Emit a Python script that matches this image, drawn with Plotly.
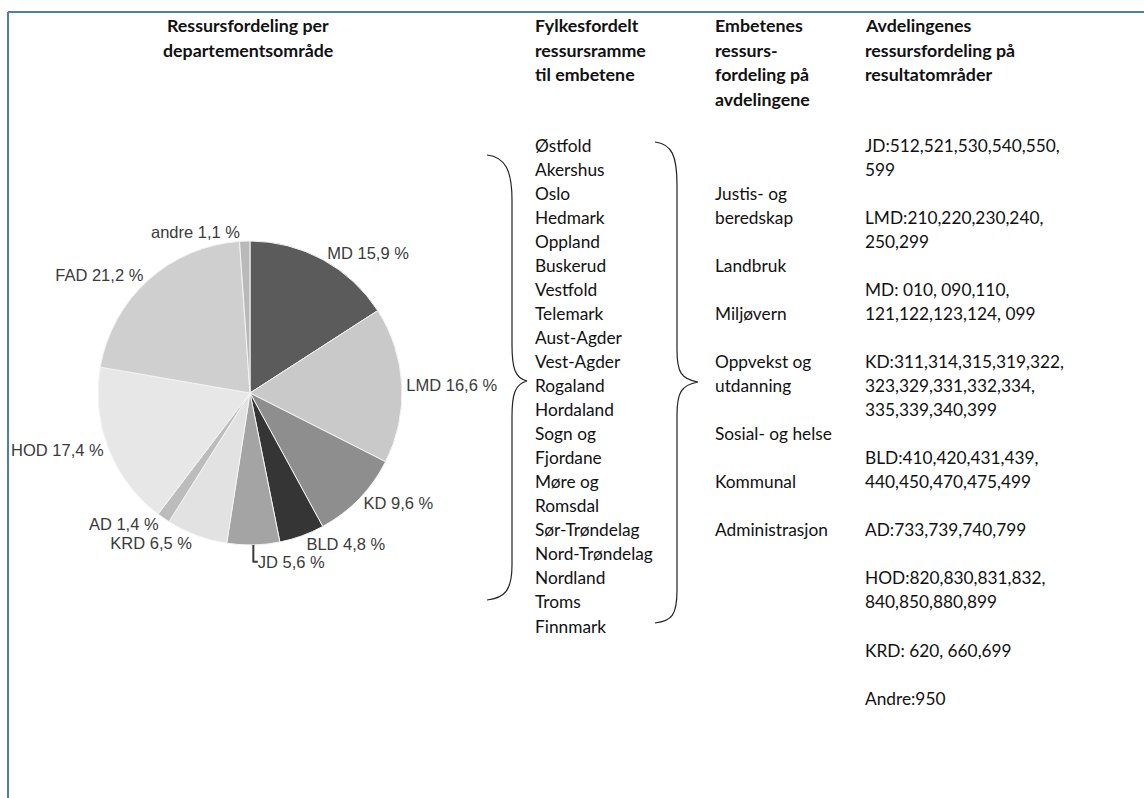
import plotly.graph_objects as go

# ---- data ----
departments = ["MD", "LMD", "KD", "BLD", "JD", "KRD", "AD", "HOD", "FAD", "andre"]
shares = [15.9, 16.6, 9.6, 4.8, 5.6, 6.5, 1.4, 17.4, 21.2, 1.1]
slice_colors = ["#5b5b5b", "#c9c9c9", "#8e8e8e", "#353535", "#a4a4a4",
                "#e2e2e2", "#bcbcbc", "#e7e7e7", "#cfcfcf", "#b9b9b9"]

heading1 = ["Ressursfordeling per", "departementsområde"]
heading2 = ["Fylkesfordelt", "ressursramme", "til embetene"]
heading3 = ["Embetenes", "ressurs-", "fordeling på", "avdelingene"]
heading4 = ["Avdelingenes", "ressursfordeling på", "resultatområder"]

counties = ["Østfold", "Akershus", "Oslo", "Hedmark", "Oppland", "Buskerud",
            "Vestfold", "Telemark", "Aust-Agder", "Vest-Agder", "Rogaland",
            "Hordaland", "Sogn og", "Fjordane", "Møre og", "Romsdal",
            "Sør-Trøndelag", "Nord-Trøndelag", "Nordland", "Troms", "Finnmark"]

departments_text = ["", "", "Justis- og", "beredskap", "", "Landbruk", "", "Miljøvern", "",
                    "Oppvekst og", "utdanning", "", "Sosial- og helse", "", "Kommunal",
                    "", "Administrasjon"]

result_areas = ["JD:512,521,530,540,550,", "599", "",
                "LMD:210,220,230,240,", "250,299", "",
                "MD: 010, 090,110,", "121,122,123,124, 099", "",
                "KD:311,314,315,319,322,", "323,329,331,332,334,", "335,339,340,399", "",
                "BLD:410,420,431,439,", "440,450,470,475,499", "",
                "AD:733,739,740,799", "",
                "HOD:820,830,831,832,", "840,850,880,899", "",
                "KRD: 620, 660,699", "",
                "Andre:950"]

W, H = 1144, 798
TEXT_FONT = "Lato"
PIE_FONT = "Liberation Sans"

labels_txt = [f"{d} {v:.1f} %".replace(".", ",") for d, v in zip(departments, shares)]

fig = go.Figure()

cx, cy, r = 250, 393, 152
fig.add_trace(go.Pie(
    labels=departments, values=shares, text=labels_txt,
    textinfo="text", textposition="outside", sort=False,
    direction="clockwise", rotation=0,
    marker=dict(colors=slice_colors, line=dict(color="#f4f4f4", width=1)),
    textfont=dict(family=PIE_FONT, size=16.5, color="#3a3a3a"),
    outsidetextfont=dict(family=PIE_FONT, size=16.5, color="#3a3a3a"),
    domain=dict(x=[(cx - r) / W, (cx + r) / W], y=[(H - cy - r) / H, (H - cy + r) / H]),
    showlegend=False, hoverinfo="label+value",
))

annotations = []
def add_lines(lines, x, y0, step, bold=False, anchor="left", size=17.3):
    for i, t in enumerate(lines):
        if not t:
            continue
        txt = f"<b>{t}</b>" if bold else t
        annotations.append(dict(x=x, y=y0 + i * step, xref="x", yref="y", text=txt,
                                showarrow=False, xanchor=anchor, yanchor="middle",
                                font=dict(family=TEXT_FONT, size=size, color="#111111")))

add_lines(heading1, 248, 25, 24.5, bold=True, anchor="center", size=17.8)
add_lines(heading2, 533, 25, 24.5, bold=True, size=17.8)
add_lines(heading3, 713, 25, 24.5, bold=True, size=17.8)
add_lines(heading4, 863, 25, 24.5, bold=True, size=17.8)
add_lines(counties, 533, 145, 24.05)
add_lines(departments_text, 713, 145, 24.05)
add_lines(result_areas, 863, 145, 24.05)

shapes = [
    dict(type="line", xref="x", yref="y", x0=8, y0=12, x1=1144, y1=12,
         line=dict(color="#4a7ebb", width=2)),
    dict(type="line", xref="x", yref="y", x0=8, y0=12, x1=8, y1=798,
         line=dict(color="#4a7ebb", width=2)),
    # left brace
    dict(type="path", xref="x", yref="y",
         path="M 487 155 C 505 157, 512 170, 512 200 L 512 345 C 512 368, 515 378, 527 381 "
              "C 515 384, 512 394, 512 417 L 512 565 C 512 590, 505 598, 487 600",
         line=dict(color="#222222", width=1.2)),
    # right brace
    dict(type="path", xref="x", yref="y",
         path="M 655 142 C 672 144, 677 156, 677 185 L 677 350 C 677 372, 681 379, 698 382 "
              "C 681 385, 677 393, 677 415 L 677 590 C 677 615, 672 621, 655 623",
         line=dict(color="#222222", width=1.2)),
]

fig.update_layout(
    width=W, height=H, margin=dict(l=0, r=0, t=0, b=0),
    paper_bgcolor="white", plot_bgcolor="rgba(0,0,0,0)",
    xaxis=dict(range=[0, W], visible=False, fixedrange=True),
    yaxis=dict(range=[H, 0], visible=False, fixedrange=True),
    annotations=annotations, shapes=shapes,
)

fig.write_html("out.html")
